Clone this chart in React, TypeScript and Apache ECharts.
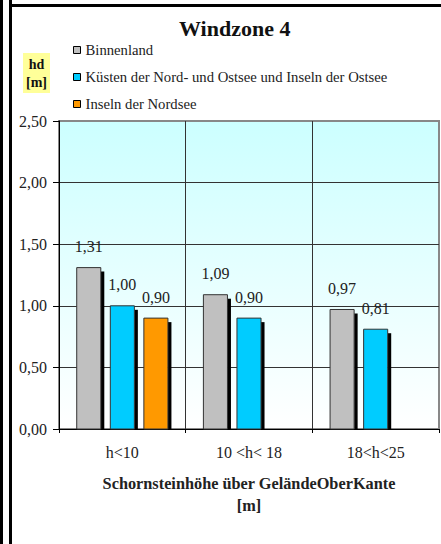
import React, { useEffect, useRef } from "react";
import * as echarts from "echarts";

const categories = ["h<10", "10 <h< 18", "18<h<25"];
const binnenland = [1.31, 1.09, 0.97];
const kuesten = [1.0, 0.9, 0.81];
const inselnNordsee: (number | null)[] = [0.9, null, null];
const seriesNames = [
  "Binnenland",
  "Küsten der Nord- und Ostsee und Inseln der Ostsee",
  "Inseln der Nordsee",
];
const seriesColors = ["#c0c0c0", "#00ccff", "#ff9900"];
const yTicks = [0, 0.5, 1, 1.5, 2, 2.5];

const FONT = "Liberation Serif";
const fmt = (v: number) => v.toFixed(2).replace(".", ",");

export default function App() {
  const ref = useRef<HTMLDivElement>(null);
  useEffect(() => {
    document.body.style.margin = "0";
    const chart = echarts.init(ref.current!, undefined, { renderer: "svg" });
    const makeRender = (slot: number, color: string) => (params: any, api: any) => {
      const v = api.value(1);
      if (v == null || isNaN(v)) return null;
      const c = api.value(0);
      const top = api.coord([c, v]);
      const base = api.coord([c, 0]);
      const band = api.size([1, 0])[0];
      const w = band * 0.19;
      const cx = top[0] + (slot - 1) * band * 0.265;
      const x = cx - w / 2;
      const h = base[1] - top[1];
      return {
        type: "group",
        children: [
          {
            type: "rect",
            shape: { x: x + w, y: top[1] + 4, width: 3.5, height: h - 4 },
            style: { fill: "#000" },
          },
          {
            type: "rect",
            shape: { x, y: top[1], width: w, height: h },
            style: { fill: color, stroke: "#333", lineWidth: 1 },
          },
          {
            type: "text",
            x: cx,
            y: top[1] - 21,
            style: {
              text: fmt(v),
              fill: "#222",
              fontFamily: FONT,
              fontSize: 16,
              align: "center",
              verticalAlign: "middle",
            },
          },
        ],
      };
    };
    const allData = [binnenland, kuesten, inselnNordsee];
    chart.setOption({
      animation: false,
      backgroundColor: "#fff",
      title: {
        text: "Windzone 4",
        left: 179,
        top: 17,
        padding: 0,
        textStyle: { fontFamily: FONT, fontSize: 22, fontWeight: "bold", color: "#111" },
      },
      legend: {
        orient: "vertical",
        left: 73,
        top: 42,
        padding: 0,
        itemWidth: 7,
        itemHeight: 7,
        itemGap: 11,
        icon: "rect",
        itemStyle: { borderColor: "#000", borderWidth: 1 },
        textStyle: { fontFamily: FONT, fontSize: 14.7, color: "#222", lineHeight: 16 },
        data: seriesNames,
      },
      grid: {
        left: 59,
        right: 2,
        top: 121,
        bottom: 115,
        show: true,
        borderColor: "#888",
        borderWidth: 2,
        backgroundColor: {
          type: "linear",
          x: 0,
          y: 0,
          x2: 0,
          y2: 1,
          colorStops: [
            { offset: 0, color: "#ccffff" },
            { offset: 1, color: "#ffffff" },
          ],
        },
      },
      xAxis: {
        type: "category",
        data: categories,
        axisLine: { lineStyle: { color: "#000", width: 1 } },
        axisTick: { show: true, interval: 0, length: 4, lineStyle: { color: "#000" } },
        splitLine: {
          show: true,
          interval: 0,
          showMinLine: false,
          showMaxLine: false,
          lineStyle: { color: "#333", width: 1 },
        },
        axisLabel: { fontFamily: FONT, fontSize: 16, color: "#222", margin: 15, interval: 0 },
        name: "Schornsteinhöhe über GeländeOberKante\n[m]",
        nameLocation: "middle",
        nameGap: 43,
        nameTextStyle: {
          fontFamily: FONT,
          fontSize: 16.3,
          fontWeight: "bold",
          color: "#222",
          lineHeight: 22,
        },
      },
      yAxis: {
        type: "value",
        min: 0,
        max: 2.5,
        interval: 0.5,
        axisLine: { show: true, lineStyle: { color: "#000", width: 1 } },
        axisTick: { show: true, length: 6, lineStyle: { color: "#000" } },
        splitLine: {
          show: true,
          showMinLine: false,
          showMaxLine: false,
          lineStyle: { color: "#333", width: 1 },
        },
        axisLabel: {
          fontFamily: FONT,
          fontSize: 16,
          color: "#222",
          margin: 12,
          formatter: (v: number) => (yTicks.includes(v) ? fmt(v) : ""),
        },
      },
      graphic: [
        { type: "rect", shape: { x: 0, y: 0, width: 3, height: 544 }, style: { fill: "#000" } },
        { type: "rect", shape: { x: 9, y: 0, width: 3, height: 544 }, style: { fill: "#000" } },
        { type: "rect", shape: { x: 9, y: 4, width: 432, height: 3 }, style: { fill: "#000" } },
        { type: "rect", shape: { x: 23, y: 53, width: 27, height: 40 }, style: { fill: "#ffff99" } },
        {
          type: "text",
          x: 36.5,
          y: 73,
          style: {
            text: "hd\n[m]",
            fontFamily: FONT,
            fontSize: 14,
            fontWeight: "bold",
            fill: "#111",
            align: "center",
            verticalAlign: "middle",
            lineHeight: 18,
          },
        },
      ],
      series: seriesNames.map((name, i) => ({
        type: "custom",
        name,
        itemStyle: { color: seriesColors[i] },
        encode: { x: 0, y: 1 },
        data: allData[i].map((v, j) => [j, v]),
        renderItem: makeRender(i, seriesColors[i]),
      })),
    });
    return () => chart.dispose();
  }, []);
  return (
    <div
      ref={ref}
      style={{ position: "absolute", left: 0, top: 0, width: 441, height: 544 }}
    />
  );
}
